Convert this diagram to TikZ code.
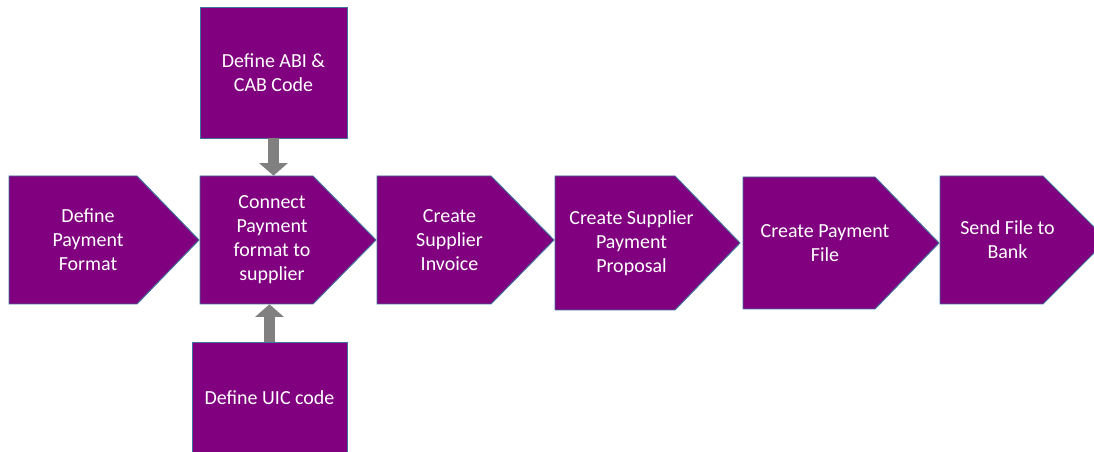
\documentclass[tikz,border=0pt]{standalone}
\usepackage{fontspec}
\setmainfont{Carlito}
\usepackage{tikz}
\usetikzlibrary{arrows.meta, positioning, calc}
\definecolor{stepfill}{HTML}{800080}
\definecolor{stepedge}{HTML}{41719C}
\definecolor{arrowgray}{HTML}{808080}
\newcommand{\pxu}{0.025cm}
\newcommand{\stepfont}{\fontsize{14.2pt}{17.1pt}\selectfont}
\tikzset{>=latex}
\tikzset{
  stepshape/.style={fill=stepfill, draw=stepedge, line width=0.7pt},
  steptext/.style={text=white, align=center, font=\stepfont, inner sep=0pt},
  codebox/.style={rectangle, fill=stepfill, draw=stepedge, line width=0.7pt,
    text=white, align=center, font=\stepfont, inner sep=0pt},
  feedarrow/.style={draw=arrowgray, line width=7.8pt,
    -{Triangle[width=20pt, length=9pt]}}
}

\begin{document}
\begin{tikzpicture}[x=0.025cm, y=-0.025cm]
  \useasboundingbox (0,0) rectangle (1094,452);
  \clip (0,0) rectangle (1094,452);
  % process chevrons: name / left / flat end / tip / top / bottom / text
  \foreach \name/\l/\f/\t/\top/\bot/\txt in {
      format/9/137/199/176/304/{Define\\Payment\\Format},
      connect/200/313/376/176/304/{Connect\\Payment\\format to\\supplier},
      invoice/377/491/554/176/304/{Create\\Supplier\\Invoice},
      proposal/555/675/740/176/310/{Create Supplier\\Payment\\Proposal},
      payfile/743/875/939/177/309/{Create Payment\\File},
      bank/940/1043/1107/176/304/{Send File to\\Bank}}
  {
    \draw[stepshape] (\l,\top) -- (\f,\top) -- (\t,{(\top+\bot)/2})
      -- (\f,\bot) -- (\l,\bot) -- cycle;
    \node[steptext, minimum height={(\bot-\top)*\pxu}] (\name)
      at ({(\l+\t)/2-16},{(\top+\bot)/2}) {\txt};
  }
  % code boxes above and below
  \node[codebox, minimum width=147*\pxu, minimum height=131*\pxu] (abi)
    at (273.5,72.5) {Define ABI \&\\CAB Code};
  \node[codebox, minimum width=155*\pxu, minimum height=112*\pxu] (uic)
    at (269.5,398) {Define UIC code};
  \draw[feedarrow] (abi.south) -- (abi.south |- connect.north);
  \draw[feedarrow] (uic.north) -- (uic.north |- connect.south);
\end{tikzpicture}
\end{document}
